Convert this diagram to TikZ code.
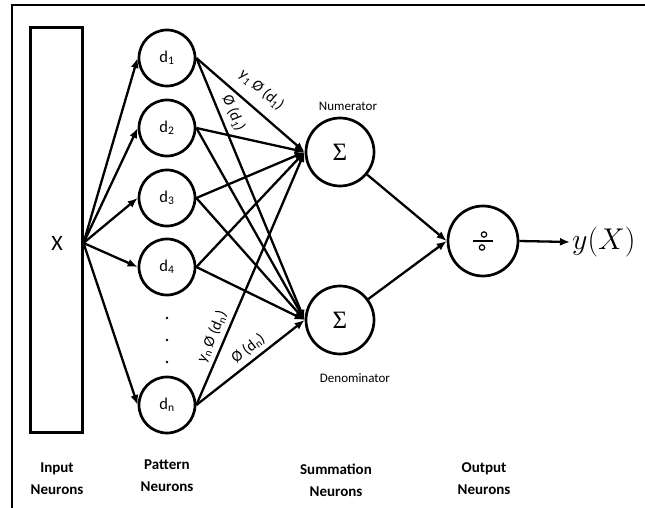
\RequirePackage{fix-cm}
\documentclass[tikz,border=0pt]{standalone}
\usepackage{fontspec}
\setmainfont{Carlito}
\newfontfamily\sigmafont{Liberation Serif}
\usetikzlibrary{arrows.meta}
\begin{document}
\begin{tikzpicture}[x=1pt,y=-1pt,
  pat/.style={circle,draw,line width=2.7pt,minimum size=56pt,inner sep=0pt,
    font=\fontsize{16.5}{18}\selectfont},
  sumn/.style={circle,draw,line width=2.7pt,minimum size=68pt,inner sep=0pt,
    font=\sigmafont\fontsize{25}{28}\selectfont},
  link/.style={line width=2.3pt,-{Latex[length=10pt,width=8pt]}},
  wlabel/.style={font=\fontsize{15.5}{17}\selectfont,sloped,inner sep=1.5pt},
  layer/.style={font=\bfseries\fontsize{15}{22}\selectfont,align=center},
  sumcaption/.style={font=\fontsize{13}{15}\selectfont}]
\useasboundingbox (0,0) rectangle (645,508);

% frame
\draw[line width=2pt] (12,508) -- (12,5) -- (645,5);

% input layer
\node[draw,line width=3pt,minimum width=52pt,minimum height=404pt,inner sep=0pt] (inp) at (56,230) {};
\node[font=\fontsize{22}{24}\selectfont] (xl) at (57,243) {X};
\coordinate (hub) at (inp.east |- xl);

% pattern layer
\node[pat] (d1) at (167,58)  {d\textsubscript{1}};
\node[pat] (d2) at (167,128) {d\textsubscript{2}};
\node[pat] (d3) at (167,198) {d\textsubscript{3}};
\node[pat] (d4) at (167,267) {d\textsubscript{4}};
\node[pat] (dn) at (167,405) {d\textsubscript{n}};
\foreach \yy in {318,340,362} \fill (167,\yy) circle (1.3pt);

% summation layer
\node[sumn] (num) at (340,152) {Σ};
\node[sumn] (den) at (340,320) {Σ};
\node[sumcaption] (numl) at (348,106) {Numerator};
\node[sumcaption] (denl) at (355,378) {Denominator};

% output layer
\node[circle,draw,line width=2.7pt,minimum size=70pt,inner sep=0pt] (out) at (483,241) {};
\draw[line width=1.4pt] ([xshift=-10pt]out.center) -- ([xshift=10pt]out.center);
\draw[line width=1.2pt] ([shift={(1,-6.5)}]out.center) circle (2.7pt);
\draw[line width=1.2pt] ([shift={(-1,6.5)}]out.center) circle (2.7pt);
\node[anchor=west,font=\fontsize{30}{34}\selectfont,inner sep=2pt] (yx) at (570,242) {$y(X)$};

% connections
\foreach \d in {d1,d2,d3,d4,dn} {
  \draw[link] (hub) -- (\d.west);
}
\draw[link] (d1.east) -- node[wlabel,above=9pt,pos=0.49] {y\textsubscript{1} Ø (d\textsubscript{1})} (num.west);
\draw[link] (d1.east) -- node[wlabel,above=4pt,pos=0.23] {Ø (d\textsubscript{1})} (den.west);
\foreach \d in {d2,d3,d4} {
  \draw[link] (\d.east) -- (num.west);
  \draw[link] (\d.east) -- (den.west);
}
\draw[link] (dn.east) -- node[wlabel,above=3pt,pos=0.25] {y\textsubscript{n} Ø (d\textsubscript{n})} (num.west);
\draw[link] (dn.east) -- node[wlabel,above=3pt,pos=0.55] {Ø (d\textsubscript{n})} (den.west);
\draw[link] (num) -- (out.west);
\draw[link] (den) -- (out.west);
\draw[link] (out.east) -- (yx.west);

% layer captions
\node[layer] (l1) at (57,479)  {Input\\Neurons};
\node[layer] (l2) at (167,476) {Pattern\\Neurons};
\node[layer] (l3) at (336,480) {Summation\\Neurons};
\node[layer] (l4) at (484,479) {Output\\Neurons};
\end{tikzpicture}
\end{document}
